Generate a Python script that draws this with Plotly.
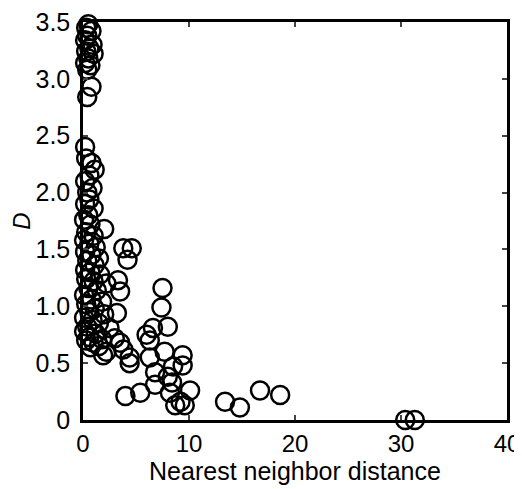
import plotly.graph_objects as go

# Nearest neighbor distance (x) and D (y)
nn_dist = [
    0.5, 0.3, 0.8, 0.4, 0.2, 0.9, 0.6, 0.3, 1.0, 0.5, 0.2, 0.7, 0.4, 0.8, 0.4,
    0.2, 0.3, 0.8, 1.1, 0.6, 0.2, 0.9, 0.4, 0.6, 0.2, 1.0, 0.5, 0.1, 0.7, 2.0,
    0.3, 1.0, 0.1, 0.6, 1.2, 0.2, 0.8, 1.5, 0.4, 1.1, 0.2, 0.7, 1.6, 0.3, 1.0,
    2.2, 0.5, 1.3, 0.1, 0.8, 1.8, 0.3, 1.1, 0.6, 2.0, 0.1, 0.9, 1.5, 0.4, 2.5,
    0.1, 1.2, 0.6, 1.8, 0.3, 1.0, 1.5, 0.7, 2.2, 1.9,
    3.8, 4.6, 4.2, 3.3, 3.5, 3.2, 3.0, 3.5, 3.8, 4.4, 4.4, 4.0, 5.4,
    7.5, 7.4, 8.0, 6.6, 6.0, 6.3, 7.7, 6.3, 9.4, 9.4, 8.5, 6.8, 8.0, 6.8, 8.4,
    10.1, 8.2, 8.7, 9.6, 9.2, 13.4, 14.8, 16.7, 18.6, 30.4, 31.3,
]
d_values = [
    3.48, 3.45, 3.42, 3.38, 3.34, 3.30, 3.27, 3.24, 3.22, 3.18, 3.14, 3.12, 3.08, 2.93, 2.84,
    2.40, 2.30, 2.26, 2.20, 2.15, 2.10, 2.04, 2.00, 1.94, 1.90, 1.86, 1.80, 1.76, 1.72, 1.68,
    1.65, 1.62, 1.58, 1.55, 1.52, 1.48, 1.45, 1.42, 1.40, 1.36, 1.32, 1.30, 1.28, 1.24, 1.22,
    1.20, 1.16, 1.14, 1.10, 1.06, 1.04, 1.02, 0.98, 0.95, 0.93, 0.90, 0.88, 0.85, 0.82, 0.81,
    0.78, 0.76, 0.73, 0.71, 0.70, 0.68, 0.65, 0.64, 0.60, 0.57,
    1.51, 1.51, 1.41, 1.23, 1.13, 0.94, 0.72, 0.68, 0.62, 0.55, 0.50, 0.21, 0.24,
    1.16, 0.99, 0.82, 0.81, 0.75, 0.70, 0.60, 0.55, 0.57, 0.48, 0.47, 0.42, 0.38, 0.31, 0.33,
    0.26, 0.24, 0.13, 0.13, 0.16, 0.16, 0.11, 0.26, 0.22, 0.0, 0.0,
]

x_ticks = [0, 10, 20, 30, 40]
y_ticks = [0, 0.5, 1.0, 1.5, 2.0, 2.5, 3.0, 3.5]
y_tick_text = ["0", "0.5", "1.0", "1.5", "2.0", "2.5", "3.0", "3.5"]

fig = go.Figure()
fig.add_trace(go.Scatter(
    x=nn_dist, y=d_values, mode="markers",
    marker=dict(symbol="circle-open", size=18, color="black",
                line=dict(color="black", width=2.5)),
    cliponaxis=False, showlegend=False,
))

font = "Liberation Sans, Arial, Helvetica, sans-serif"
fig.update_layout(
    width=514, height=481,
    margin=dict(l=75, r=15, t=14, b=69),
    paper_bgcolor="white", plot_bgcolor="white",
    font=dict(family=font, size=24, color="black"),
)
fig.update_xaxes(
    range=[0, 40], tickvals=x_ticks, ticks="inside", ticklen=5, tickwidth=2,
    ticklabeloverflow="allow",
    showline=True, linewidth=2.5, linecolor="black", mirror="ticks",
    showgrid=False, zeroline=False, automargin=False,
    title=dict(text="Nearest neighbor distance", font=dict(size=25), standoff=4),
    tickfont=dict(size=24),
)
fig.update_yaxes(
    range=[0, 3.5], tickvals=y_ticks, ticktext=y_tick_text,
    ticks="inside", ticklen=5, tickwidth=2, ticklabelstandoff=5,
    ticklabeloverflow="allow",
    showline=True, linewidth=2.5, linecolor="black", mirror="ticks",
    showgrid=False, zeroline=False, automargin=False,
    title=dict(text="<i>D</i>", font=dict(size=24), standoff=8),
    tickfont=dict(size=25),
)
fig.write_html("out.html")
